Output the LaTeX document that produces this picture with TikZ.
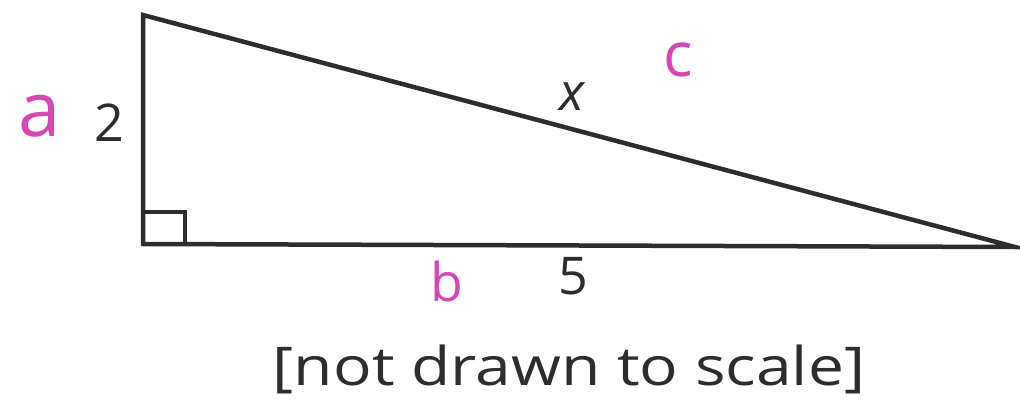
\documentclass[tikz,border=0pt]{standalone}
\usepackage{fontspec}
\setmainfont{Open Sans}
\usepackage{tikz}
\definecolor{inkgray}{RGB}{45,45,45}
\definecolor{penpink}{RGB}{214,70,180}
\tikzset{
  side/.style={draw=inkgray, line width=3.2pt, line join=miter},
  measure/.style={font=\fontsize{37}{42}\selectfont, text=inkgray, inner sep=0pt},
  hand/.style={text=penpink, inner sep=0pt}
}

\begin{document}
\begin{tikzpicture}[x=0.025cm, y=-0.025cm]
  \useasboundingbox (0,0) rectangle (1020,400);

  %% Triangle corners
  \coordinate (top) at (143,15);
  \coordinate (corner) at (143,244);
  \coordinate (tip) at (1015,247);

  %% Sides and right angle
  \draw[side] (top) -- (corner) -- (tip) -- cycle;
  \draw[draw=inkgray, line width=2.4pt] (143,212) rectangle (185,244);

  %% Side lengths
  \node[measure] (lenA) at (109,123) {2};
  \node[measure, font=\fontsize{37}{42}\selectfont\itshape] (lenC) at (572,97) {x};
  \node[measure] (lenB) at (573,276) {5};

  %% Pink pen letters
  \node[hand, font=\fontsize{54}{60}\selectfont] (penA) at (40,116) {a};
  \node[hand, font=\fontsize{44}{50}\selectfont] (penC) at (678,60) {c};
  \node[hand, font=\fontsize{38}{44}\selectfont] (penB) at (447,281) {b};

  %% Note
  \node[measure, font=\fontsize{38}{42}\selectfont, xscale=1.2] (note) at (569,369)
    {[not drawn to scale]};
\end{tikzpicture}
\end{document}
